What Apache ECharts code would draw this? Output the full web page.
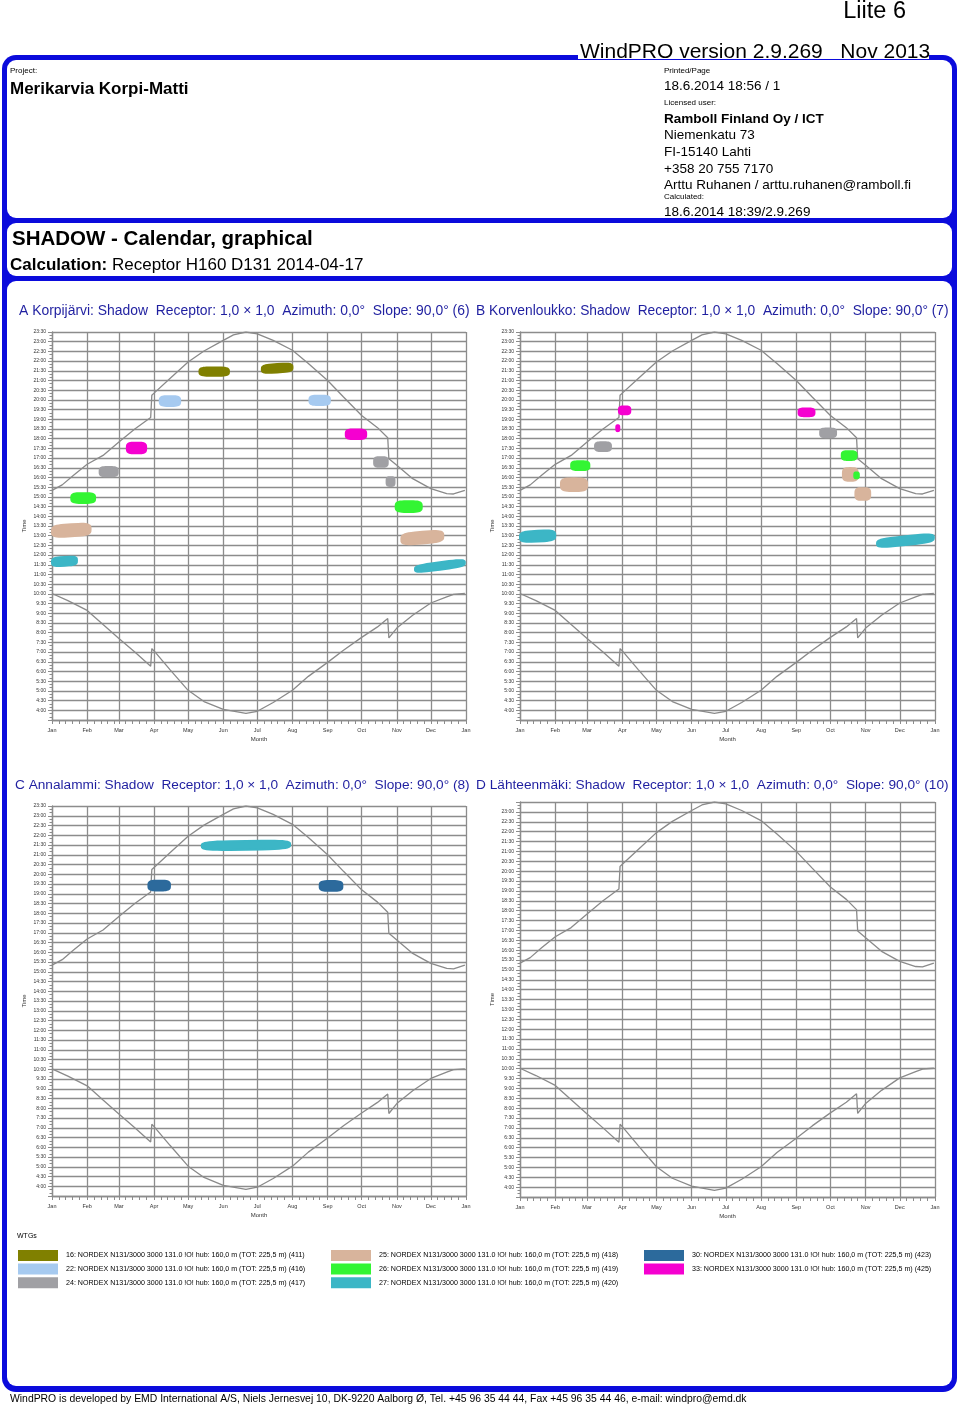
<!DOCTYPE html>
<html><head><meta charset="utf-8">
<script src="https://cdn.jsdelivr.net/npm/echarts@6/dist/echarts.min.js"></script>
<style>html,body{margin:0;padding:0;background:#fff}#c{width:960px;height:1407px}</style>
</head><body><div id="c"></div>
<script>
// ---------- data ----------
const monthLabels = ['Jan','Feb','Mar','Apr','May','Jun','Jul','Aug','Sep','Oct','Nov','Dec','Jan'];
const panelTitles = [
  'A Korpijärvi: Shadow  Receptor: 1,0 × 1,0  Azimuth: 0,0°  Slope: 90,0° (6)',
  'B Korvenloukko: Shadow  Receptor: 1,0 × 1,0  Azimuth: 0,0°  Slope: 90,0° (7)',
  'C Annalammi: Shadow  Receptor: 1,0 × 1,0  Azimuth: 0,0°  Slope: 90,0° (8)',
  'D Lähteenmäki: Shadow  Receptor: 1,0 × 1,0  Azimuth: 0,0°  Slope: 90,0° (10)'
];
const turbineIds = ['16','22','24','25','26','27','30','33'];
const turbineNames = [
  '16: NORDEX N131/3000 3000 131.0 !O! hub: 160,0 m (TOT: 225,5 m) (411)',
  '22: NORDEX N131/3000 3000 131.0 !O! hub: 160,0 m (TOT: 225,5 m) (416)',
  '24: NORDEX N131/3000 3000 131.0 !O! hub: 160,0 m (TOT: 225,5 m) (417)',
  '25: NORDEX N131/3000 3000 131.0 !O! hub: 160,0 m (TOT: 225,5 m) (418)',
  '26: NORDEX N131/3000 3000 131.0 !O! hub: 160,0 m (TOT: 225,5 m) (419)',
  '27: NORDEX N131/3000 3000 131.0 !O! hub: 160,0 m (TOT: 225,5 m) (420)',
  '30: NORDEX N131/3000 3000 131.0 !O! hub: 160,0 m (TOT: 225,5 m) (423)',
  '33: NORDEX N131/3000 3000 131.0 !O! hub: 160,0 m (TOT: 225,5 m) (425)'
];
const turbineColors = ['#808000','#a6caf0','#a0a0a4','#d8b49c','#33f533','#3cb6c6','#2c6a9c','#f500d0'];

// sunset / sunrise (date, hours)
const sunset = [['01-01',15.34],['01-10',15.62],['01-20',16.12],['02-01',16.68],['02-15',17.14],['03-01',17.83],['03-15',18.5],['03-29',19.09],['03-30',20.24],['04-01',20.35],['04-15',21.1],['05-01',21.95],['05-15',22.52],['06-01',23.07],['06-10',23.35],['06-21',23.5],['07-01',23.4],['07-15',23.07],['08-01',22.56],['08-15',21.88],['09-01',21.0],['09-15',20.15],['10-01',19.2],['10-15',18.57],['10-24',18.05],['10-25',16.97],['11-01',16.63],['11-15',15.94],['12-01',15.43],['12-15',15.17],['12-21',15.15],['12-31',15.34]];
const sunrise = [['01-01',10.02],['01-15',9.65],['02-01',9.15],['02-15',8.42],['03-01',7.7],['03-15',7.0],['03-29',6.27],['03-30',7.18],['04-01',7.06],['04-15',6.1],['05-01',5.03],['05-15',4.45],['06-01',4.05],['06-21',3.84],['07-01',3.95],['07-15',4.4],['08-01',5.03],['08-15',5.75],['09-01',6.47],['09-15',7.1],['10-01',7.76],['10-15',8.3],['10-24',8.73],['10-25',7.73],['11-01',8.24],['11-15',8.9],['12-01',9.53],['12-15',9.85],['12-21',9.98],['12-31',10.02]];

// shadow blobs: [turbine, start date, end date, centre time at start, centre time at end, thickness h]
const blobsA = [
  ['16','05-11','06-06',21.46,21.46,0.43],
  ['16','07-05','08-01',21.58,21.68,0.43],
  ['22','04-06','04-24',19.94,19.94,0.5],
  ['22','08-16','09-03',19.98,19.98,0.48],
  ['24','02-12','02-28',16.3,16.3,0.48],
  ['24','10-12','10-24',16.8,16.8,0.5],
  ['24','10-23','10-30',15.79,15.79,0.45],
  ['25','01-01','02-04',13.22,13.34,0.62],
  ['25','11-05','12-12',12.81,12.99,0.6],
  ['26','01-18','02-08',14.94,14.94,0.5],
  ['26','10-31','11-23',14.5,14.5,0.55],
  ['27','01-01','01-23',11.64,11.72,0.45],
  ['27','11-17','12-31',11.27,11.61,0.38],
  ['33','03-08','03-25',17.52,17.52,0.55],
  ['33','09-17','10-05',18.23,18.23,0.5]
];
const blobsB = [
  ['24','03-08','03-22',17.59,17.59,0.45],
  ['24','09-22','10-06',18.3,18.3,0.45],
  ['25','02-06','03-01',15.63,15.63,0.65],
  ['25','10-12','10-25',16.16,16.16,0.65],
  ['25','10-23','11-05',15.15,15.15,0.6],
  ['26','02-15','03-03',16.61,16.61,0.45],
  ['26','10-11','10-24',17.13,17.13,0.45],
  ['26','10-22','10-26',16.11,16.11,0.3],
  ['27','01-01','02-01',12.93,13.02,0.55],
  ['27','11-11','12-31',12.59,12.9,0.45],
  ['33','03-29','04-08',19.46,19.46,0.4],
  ['33','03-27','03-29',18.54,18.54,0.3],
  ['33','09-03','09-17',19.36,19.36,0.4]
];
const blobsC = [
  ['27','05-13','07-30',21.45,21.52,0.45],
  ['30','03-27','04-15',19.42,19.42,0.5],
  ['30','08-25','09-14',19.4,19.4,0.5]
];
const blobsD = [];

// ---------- helpers ----------
function doy(s){const [m,d]=s.split('-').map(Number);return Math.round((Date.UTC(2014,m-1,d)-Date.UTC(2014,0,1))/86400000);}
const monthStarts = []; for(let m=0;m<=12;m++) monthStarts.push(doy((m+1)+'-01'));
const tickDays = new Set(); monthStarts.forEach((s,i)=>{tickDays.add(s); if(i<12){[6,12,18,24].forEach(o=>tickDays.add(s+o));}});
const dayCats = []; for(let i=0;i<=365;i++) dayCats.push(String(i));

const gridColor = '#8c8c8c';
const FONT = '"Liberation Sans", Arial, sans-serif';
const grids = [
  {left:52, top:332, width:414, height:388},
  {left:520, top:332, width:415, height:388},
  {left:52, top:806, width:414, height:390},
  {left:520, top:802, width:415, height:395}
];

const measureCtx = document.createElement('canvas').getContext('2d');
function fitSize(text, width, base, bold){
  measureCtx.font = (bold?'bold ':'') + base + 'px ' + FONT;
  const w = measureCtx.measureText(text).width;
  return Math.min(base * 1.2, base * width / w);
}

function fmtTime(v, hideTop){
  if (v < 3.9) return '';
  if (hideTop && v > 23.4) return '';
  const h = Math.floor(v + 1e-6), m = Math.round((v - h) * 60);
  return h + ':' + (m < 10 ? '0' : '') + m;
}

function renderBlob(params, api){
  const d1=api.value(0), d2=api.value(1), c1=api.value(2), c2=api.value(3), th=api.value(4)/2;
  const a = api.coord([d1,c1]), b = api.coord([d2,c2]);
  const hpx = a[1] - api.coord([d1,c1+th])[1];
  const mx = (a[0]+b[0])/2, half = Math.max(1.5,(b[0]-a[0])/2);
  const pts = [];
  for (let k=0;k<40;k++){
    const t = k/40*Math.PI*2, ct=Math.cos(t), st=Math.sin(t);
    const u = Math.sign(ct)*Math.pow(Math.abs(ct),0.55), v = Math.sign(st)*Math.pow(Math.abs(st),0.55);
    const x = mx + u*half;
    const f = (x - a[0]) / Math.max(1e-6, b[0]-a[0]);
    const cy = a[1] + (b[1]-a[1]) * Math.min(1, Math.max(0, f));
    pts.push([x, cy + v*hpx]);
  }
  const col = api.visual('color');
  return {type:'polygon', shape:{points:pts}, style:{fill:col, stroke:col, lineWidth:2, lineJoin:'round'}};
}

// ---------- build option ----------
const xAxes = [], yAxes = [], series = [];
const allBlobs = [blobsA, blobsB, blobsC, blobsD];
grids.forEach((g, i) => {
  xAxes.push({
    type:'category', gridIndex:i, data:dayCats, boundaryGap:false,
    name:'Month', nameLocation:'middle', nameGap:16,
    nameTextStyle:{fontSize:6, color:'#333', fontFamily:FONT},
    axisLine:{lineStyle:{color:gridColor, width:1.3}},
    axisTick:{interval:(idx)=>tickDays.has(idx), length:4, lineStyle:{color:gridColor}},
    axisLabel:{interval:(idx)=>monthStarts.includes(idx), formatter:(v,idx)=>monthLabels[monthStarts.indexOf(Number(v))] || '', fontSize:5.5, margin:7, color:'#333', fontFamily:FONT},
    splitLine:{show:true, interval:(idx)=>monthStarts.includes(idx), lineStyle:{color:gridColor, width:1.3}}
  });
  yAxes.push({
    type:'value', gridIndex:i, min:3.5, max:23.5, interval:0.5,
    name:'Time', nameLocation:'middle', nameGap:25, nameRotate:90,
    nameTextStyle:{fontSize:6, color:'#333', fontFamily:FONT},
    axisLine:{show:true, lineStyle:{color:gridColor, width:1.3}},
    axisTick:{show:true, length:4, lineStyle:{color:gridColor}},
    minorTick:{show:true, splitNumber:3, length:2.5, lineStyle:{color:gridColor}},
    axisLabel:{fontSize:5, margin:6, color:'#333', fontFamily:FONT, formatter:(v)=>fmtTime(v, i===3)},
    splitLine:{show:true, lineStyle:{color:gridColor, width:1.3}}
  });
  series.push({type:'line', name:'sunset', xAxisIndex:i, yAxisIndex:i, showSymbol:false, silent:true,
    lineStyle:{color:'#8a8a8a', width:1.3}, data:sunset.map(([d,t])=>[doy(d),t]), z:3});
  series.push({type:'line', name:'sunrise', xAxisIndex:i, yAxisIndex:i, showSymbol:false, silent:true,
    lineStyle:{color:'#8a8a8a', width:1.3}, data:sunrise.map(([d,t])=>[doy(d),t]), z:3});
  turbineIds.forEach((id, k) => {
    const rows = allBlobs[i].filter(r => r[0] === id);
    series.push({
      type:'custom', name:turbineNames[k], xAxisIndex:i, yAxisIndex:i,
      itemStyle:{color:turbineColors[k]}, encode:{x:[0,1], y:[2,3]},
      renderItem:renderBlob, z:4,
      data: rows.map(r => [doy(r[1]), doy(r[2]), r[3], r[4], r[5]])
    });
  });
});

const legendBase = {orient:'vertical', icon:'rect', itemWidth:40, itemHeight:11, itemGap:2.6, padding:0, selectedMode:false,
  textStyle:{fontSize:7.1, color:'#000', fontFamily:FONT, padding:[0,0,0,3]}};
const legends = [
  Object.assign({left:18, top:1250, data:turbineNames.slice(0,3)}, legendBase),
  Object.assign({left:331, top:1250, data:turbineNames.slice(3,6)}, legendBase),
  Object.assign({left:644, top:1250, data:turbineNames.slice(6,8)}, legendBase)
];

function txt(text, x, y, size, opts){
  opts = opts || {};
  return {type:'text', z:50, style:Object.assign({text:text, x:x, y:y, fill:opts.fill||'#000',
    font:(opts.bold?'bold ':'')+size+'px '+FONT, align:opts.align||'left', verticalAlign:'middle'}, opts.extra||{})};
}
const titleSpans = [[19,470],[476,949],[15,470],[476,949]];
const titleY = [311, 311, 785, 785];
const BLUE = '#0b0bdc';
const graphic = [
  {type:'rect', z:-10, shape:{x:2,y:55,width:955,height:1337,r:14}, style:{fill:BLUE}},
  {type:'rect', z:-9, shape:{x:7,y:60,width:945,height:158,r:9}, style:{fill:'#fff'}},
  {type:'rect', z:-9, shape:{x:7,y:223,width:945,height:53,r:9}, style:{fill:'#fff'}},
  {type:'rect', z:-9, shape:{x:7,y:281,width:945,height:1105,r:9}, style:{fill:'#fff'}},
  {type:'rect', z:-8, shape:{x:578,y:34,width:351,height:25}, style:{fill:'#fff'}},
  txt('Liite 6', 906, 12, 23.5, {align:'right'}),
  txt('WindPRO version 2.9.269   Nov 2013', 580, 52, 21),
  txt('Project:', 10, 71, 8),
  txt('Merikarvia Korpi-Matti', 10, 89, 17, {bold:true}),
  txt('Printed/Page', 664, 71, 8),
  txt('18.6.2014 18:56 / 1', 664, 86, 13.5),
  txt('Licensed user:', 664, 103, 8),
  txt('Ramboll Finland Oy / ICT', 664, 119, 13.5, {bold:true}),
  txt('Niemenkatu 73', 664, 135, 13.5),
  txt('FI-15140 Lahti', 664, 152, 13.5),
  txt('+358 20 755 7170', 664, 169, 13.5),
  txt('Arttu Ruhanen / arttu.ruhanen@ramboll.fi', 664, 185, 13.5),
  txt('Calculated:', 664, 197, 8),
  txt('18.6.2014 18:39/2.9.269', 664, 212, 13.5),
  txt('SHADOW - Calendar, graphical', 12, 239, 20.5, {bold:true}),
  {type:'text', z:50, style:{text:'{b|Calculation:} Receptor H160 D131 2014-04-17', x:10, y:265, fill:'#000',
    font:'17px '+FONT, verticalAlign:'middle', rich:{b:{fontWeight:'bold', fontSize:17, fontFamily:FONT}}}},
  txt('WTGs', 17, 1236, 7),
  txt('WindPRO is developed by EMD International A/S, Niels Jernesvej 10, DK-9220 Aalborg Ø, Tel. +45 96 35 44 44, Fax +45 96 35 44 46, e-mail: windpro@emd.dk', 10, 1399, 10.4)
];
panelTitles.forEach((t, i) => {
  const [x0, x1] = titleSpans[i];
  graphic.push(txt(t, x0, titleY[i], fitSize(t, x1 - x0, 14, false).toFixed(2), {fill:'#1f1fa0'}));
});

const chart = echarts.init(document.getElementById('c'), null, {renderer:'canvas'});
chart.setOption({
  backgroundColor:'#fff', animation:false,
  grid:grids, xAxis:xAxes, yAxis:yAxes, series:series, legend:legends, graphic:graphic
});
</script></body></html>
